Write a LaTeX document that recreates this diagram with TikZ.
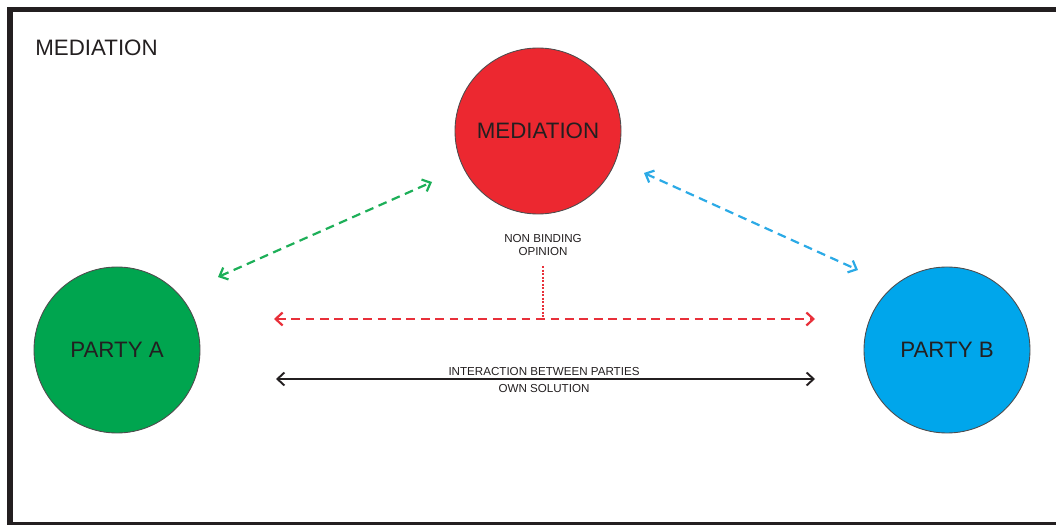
\documentclass[tikz,border=0pt]{standalone}
\usepackage{fontspec}
\setmainfont{Liberation Sans}
\usetikzlibrary{arrows.meta,positioning,calc}
\definecolor{MedRed}{HTML}{EC2830}
\definecolor{PartyGreen}{HTML}{00A54F}
\definecolor{PartyBlue}{HTML}{00A6EB}
\definecolor{LinkGreen}{HTML}{1DAF58}
\definecolor{LinkBlue}{HTML}{2BAAE6}
\definecolor{LinkRed}{HTML}{E8303A}
\definecolor{InkDark}{HTML}{231F20}

\begin{document}
\begin{tikzpicture}[
      x=0.2mm, y=-0.2mm,
      party/.style={
        circle, draw=InkDark!80, line width=0.5pt, minimum size=33.2mm,
        inner sep=0pt, text=InkDark, font=\fontsize{12.7}{15}\selectfont
      },
      note/.style={
        align=center, text=InkDark, inner sep=1pt,
        font=\fontsize{6.6}{7.6}\selectfont
      },
      tip/.style={{Straight Barb[length=1.4mm,width=2.6mm]}-{Straight Barb[length=1.4mm,width=2.6mm]}},
      link/.style={tip, line width=1.25pt, dash pattern=on 5pt off 3.2pt}
    ]
      \useasboundingbox (0,0) rectangle (1056,525);
      % frame
      \draw[InkDark, line width=2.85pt] (1060,10) -- (10,10) -- (10,525) -- (1060,525);
      \node[anchor=west, text=InkDark, inner sep=0pt, font=\fontsize{12.7}{15}\selectfont]
        (title) at (35,48) {MEDIATION};
      % circles
      \node[party, fill=MedRed]     (med) at (538,131) {MEDIATION};
      \node[party, fill=PartyGreen] (pa)  at (117,350) {PARTY A};
      \node[party, fill=PartyBlue]  (pb)  at (947,350) {PARTY B};
      % link ends
      \coordinate (ga) at (218,277); \coordinate (gm) at (432,182);
      \coordinate (bm) at (644,173); \coordinate (bb) at (858,270);
      \coordinate (ra) at (274,319); \coordinate (rb) at (815,319);
      \coordinate (ka) at (276,379); \coordinate (kb) at (815,379);
      \coordinate (kc) at ($(ka)!0.5!(kb)$);
      \coordinate (dt) at (543,266);
      \draw[link, LinkGreen] (ga) -- (gm);
      \draw[link, LinkBlue]  (bm) -- (bb);
      \draw[link, LinkRed]   (ra) -- (rb);
      \node[note] (op) at (543,245) {NON BINDING\\OPINION};
      \draw[LinkRed, line width=1pt, dash pattern=on 1.2pt off 0.8pt] (dt) -- (dt |- ra);
      % interaction
      \draw[tip, InkDark, line width=1.1pt] (ka) -- (kb);
      \node[note, above=0.3mm of kc, xshift=-0.3mm] (inter) {INTERACTION BETWEEN PARTIES};
      \node[note, below=0.6mm of kc, xshift=-0.3mm] (own) {OWN SOLUTION};
    \end{tikzpicture}
\end{document}
